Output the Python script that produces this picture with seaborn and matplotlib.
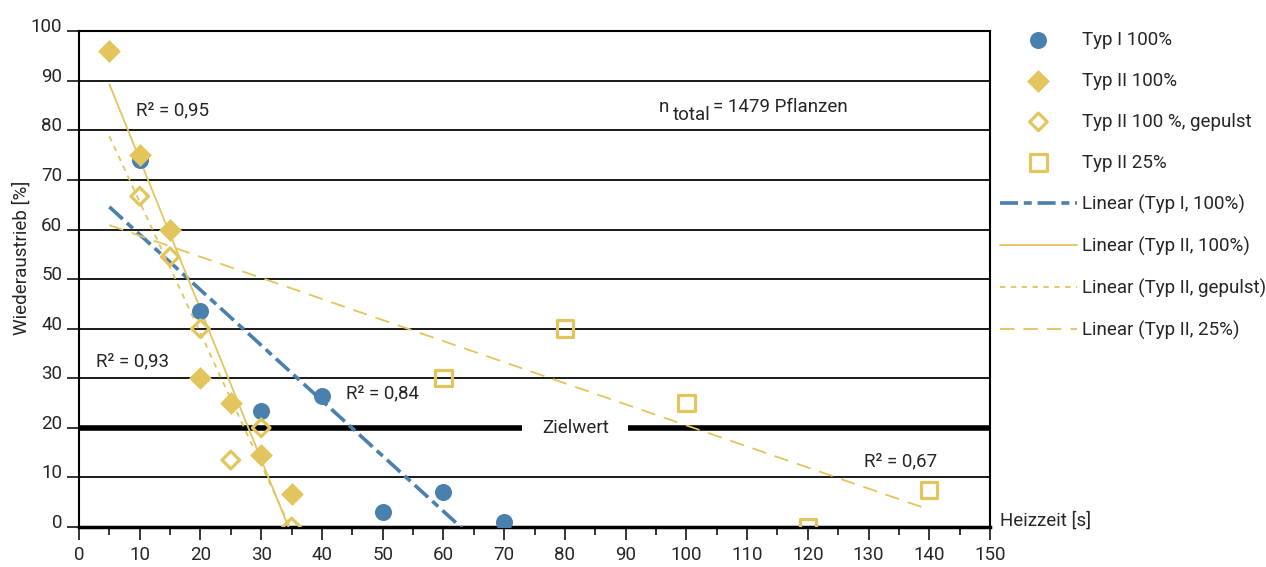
import numpy as np
import matplotlib
matplotlib.use("Agg")
import matplotlib.pyplot as plt
import matplotlib.transforms as mtransforms
import seaborn as sns

typ1_x = [10, 20, 30, 40, 50, 60, 70]
typ1_y = [74, 43.5, 23.5, 26.5, 3, 7, 1]
typ2_x = [5, 10, 15, 20, 25, 30, 35]
typ2_y = [96, 75, 60, 30, 25, 14.5, 6.7]
puls_x = [10, 15, 20, 25, 30, 35]
puls_y = [66.7, 54.5, 40, 13.5, 20, 0]
typ25_x = [60, 80, 100, 120, 140]
typ25_y = [30, 40, 25, 0, 7.5]

zielwert = 20
trend_start = 5
x_ticks = list(range(0, 151, 10))
y_ticks = list(range(0, 101, 10))

blau = "#4a80ad"
gelb = "#e3c55d"
font = ["Roboto", "DejaVu Sans"]
fs = 13.5

sns.set_style("white")
plt.rcParams["font.family"] = font
plt.rcParams["font.size"] = fs

fig, ax = plt.subplots(figsize=(12.66, 5.67), dpi=100)
fig.subplots_adjust(left=0.0624, right=0.782, bottom=0.0705, top=0.945)

# Trendlinien (lineare Regression)
def trend(xv, yv):
    k, d = np.polyfit(xv, yv, 1)
    xs = np.linspace(trend_start, max(xv), 300)
    return xs, k * xs + d

xs, ys = trend(typ1_x, typ1_y)
sns.lineplot(x=xs, y=ys, ax=ax, color=blau, lw=2.6, linestyle=(0, (5, 1.6, 2.2, 1.6)),
             label="Linear (Typ I, 100%)", zorder=3)
xs, ys = trend(typ2_x, typ2_y)
sns.lineplot(x=xs, y=ys, ax=ax, color=gelb, lw=1.3, label="Linear (Typ II, 100%)", zorder=3)
xs, ys = trend(puls_x, puls_y)
sns.lineplot(x=xs, y=ys, ax=ax, color=gelb, lw=1.3, linestyle=(0, (3, 3)),
             label="Linear (Typ II, gepulst)", zorder=3)
xs, ys = trend(typ25_x, typ25_y)
sns.lineplot(x=xs, y=ys, ax=ax, color=gelb, lw=1.3, linestyle=(0, (8, 5)),
             label="Linear (Typ II, 25%)", zorder=3)

# Punkte
sns.scatterplot(x=typ1_x, y=typ1_y, ax=ax, marker="o", s=150, color=blau,
                linewidth=0, label="Typ I 100%", zorder=4)
sns.scatterplot(x=typ2_x, y=typ2_y, ax=ax, marker="D", s=135, color=gelb,
                linewidth=0, label="Typ II 100%", zorder=4)
sns.scatterplot(x=puls_x, y=puls_y, ax=ax, marker="D", s=80, facecolor="none",
                edgecolor=gelb, linewidth=2.3, label="Typ II 100 %, gepulst", zorder=4)
sns.scatterplot(x=typ25_x, y=typ25_y, ax=ax, marker="s", s=140, facecolor="none",
                edgecolor=gelb, linewidth=2.3, label="Typ II 25%", zorder=4)

# Zielwert
ax.axhline(zielwert, color="black", lw=4, zorder=2.5)
ax.text(81.7, zielwert, "Zielwert", ha="center", va="center", fontsize=fs, zorder=2.6,
        bbox=dict(boxstyle="square,pad=1.05", fc="white", ec="none"))

# Bestimmtheitsmaße
ax.text(9.4, 84, "R² = 0,95", va="center")
ax.text(2.8, 33.5, "R² = 0,93", va="center")
ax.text(44, 27, "R² = 0,84", va="center")
ax.text(129.3, 13.3, "R² = 0,67", va="center")

# Stichprobenumfang
t1 = ax.text(95.5, 84.7, "n", va="center")
t2 = ax.annotate("total", xy=(1, 0), xycoords=t1, xytext=(4, -8), textcoords="offset pixels",
                 va="bottom")
ax.annotate("= 1479 Pflanzen", xy=(1, 0), xycoords=t2, xytext=(2, 8), textcoords="offset pixels",
            va="bottom")

# Achsen
ax.set_xlim(0, 150)
ax.set_ylim(0, 100)
ax.set_xticks(x_ticks)
ax.set_xticks(range(5, 150, 10), minor=True)
ax.set_yticks(y_ticks)
ax.yaxis.grid(True, color="#1a1a1a", lw=1.4)
ax.xaxis.grid(False)
ax.set_axisbelow(True)
for side in ["left", "right", "top"]:
    ax.spines[side].set_color("black")
    ax.spines[side].set_linewidth(1.5)
ax.spines["bottom"].set_color("black")
ax.spines["bottom"].set_linewidth(2.5)
ax.tick_params(axis="x", which="major", direction="out", length=9, width=1.3, pad=5,
               labelsize=fs, bottom=True)
ax.tick_params(axis="x", which="minor", direction="out", length=6, width=1.3, bottom=True)
ax.tick_params(axis="y", direction="out", length=9, width=1.3, pad=3, labelsize=fs, left=True)
shift = mtransforms.ScaledTranslation(0, 0.06, fig.dpi_scale_trans)
for lab in ax.get_yticklabels():
    lab.set_transform(lab.get_transform() + shift)
ax.set_xlabel("")
ax.set_ylabel("")
fig.text(22 / 1266, 1 - 258 / 567, "Wiederaustrieb [%]", rotation=90, ha="center", va="center",
         fontsize=fs)
fig.text(1000 / 1266, 1 - 521 / 567, "Heizzeit [s]", ha="left", va="center", fontsize=fs)

# Legende
handles, labels = ax.get_legend_handles_labels()
order = ["Typ I 100%", "Typ II 100%", "Typ II 100 %, gepulst", "Typ II 25%",
         "Linear (Typ I, 100%)", "Linear (Typ II, 100%)", "Linear (Typ II, gepulst)",
         "Linear (Typ II, 25%)"]
hmap = dict(zip(labels, handles))
ax.legend([hmap[k] for k in order], order, loc="upper left",
          bbox_to_anchor=(1000 / 1266, 1 - 31 / 567), bbox_transform=fig.transFigure,
          frameon=False, borderpad=0, borderaxespad=0, handlelength=4.1, handletextpad=0.3,
          labelspacing=1.22, fontsize=fs)

fig.savefig("out.png", dpi=100)
